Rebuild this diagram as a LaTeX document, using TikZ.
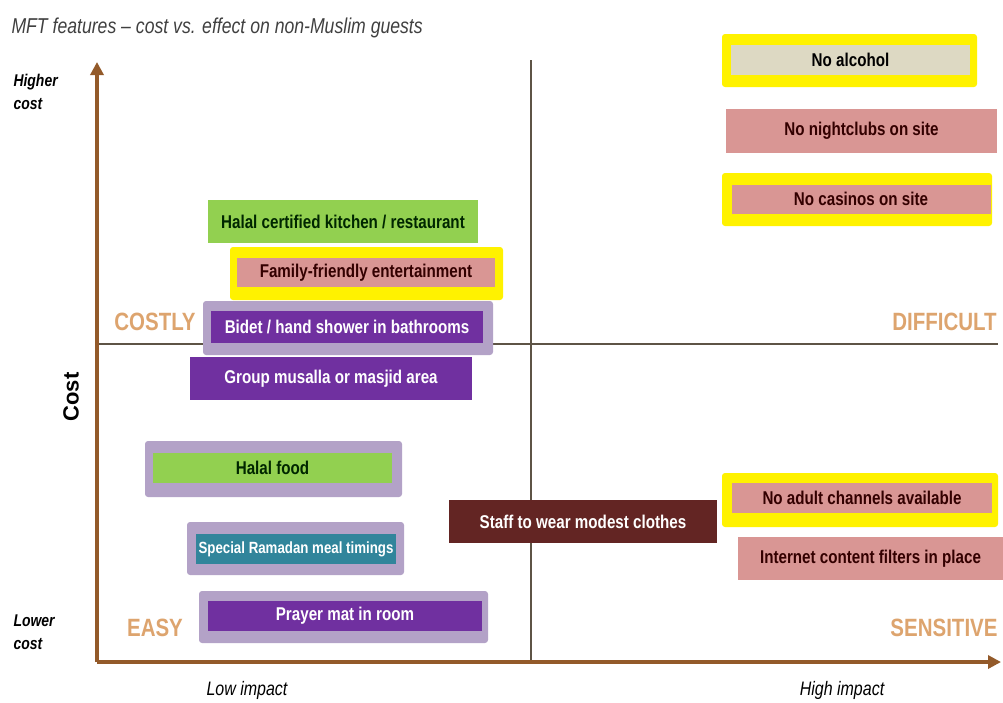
\documentclass[tikz,border=0pt]{standalone}
\usepackage{fontspec}
\setmainfont{Liberation Sans}
\newfontfamily\narrowfont[FakeStretch=0.82]{Liberation Sans}
\usetikzlibrary{arrows.meta}
\definecolor{axisbrown}{HTML}{935A2A}
\definecolor{quadtan}{HTML}{DDA46E}
\definecolor{boxgreen}{HTML}{92D050}
\definecolor{boxpink}{HTML}{D99694}
\definecolor{boxpurple}{HTML}{7030A0}
\definecolor{boxlav}{HTML}{B3A2C7}
\definecolor{boxteal}{HTML}{31859B}
\definecolor{boxbrown}{HTML}{632523}
\definecolor{boxgrey}{HTML}{DDD9C3}
\definecolor{divline}{HTML}{5E5446}
\begin{document}
\begin{tikzpicture}[x=1pt, y=-1pt,
  feat/.style={rectangle, inner sep=0pt, font=\narrowfont\bfseries\fontsize{18.5}{18.5}\selectfont},
  halo/.style={rectangle, inner sep=0pt, rounded corners=3pt},
  quad/.style={font=\narrowfont\bfseries\fontsize{25}{25}\selectfont, text=quadtan},
  axislbl/.style={font=\narrowfont\bfseries\itshape\fontsize{17}{23}\selectfont, align=left, anchor=west},
  implbl/.style={font=\narrowfont\itshape\fontsize{19.5}{20}\selectfont},
  axis/.style={draw=axisbrown, line width=3.5pt, -{Triangle[length=13pt,width=13pt]}},
  divider/.style={draw=divline, line width=1.2pt}]
\useasboundingbox (0,0) rectangle (1003,702);
% title
\node[anchor=west, text=black!75, font=\narrowfont\itshape\fontsize{21.5}{22}\selectfont] (title) at (8,28) {MFT features – cost vs. effect on non-Muslim guests};
% axes and quadrants
\coordinate (origin) at (97,662);
\coordinate (ytop) at (97,62);
\coordinate (xend) at (1001,662);
\coordinate (vtop) at (531,60);
\coordinate (vbot) at (531,662);
\coordinate (hleft) at (97,344);
\coordinate (hright) at (998,344);
\draw[divider] (vtop) -- (vbot);
\draw[divider] (hleft) -- (hright);
\draw[axis] (origin) -- (ytop);
\draw[axis] (origin) -- (xend);
\node[axislbl] (hicost) at (10,92) {Higher\\cost};
\node[axislbl] (locost) at (10,632) {Lower\\cost};
\node[rotate=90, font=\bfseries\fontsize{22}{22}\selectfont] (costlbl) at (71,397) {Cost};
\node[implbl] (loimp) at (247,690) {Low impact};
\node[implbl] (hiimp) at (842,690) {High impact};
\node[quad] (costly) at (155,322) {COSTLY};
\node[quad] (difficult) at (944.5,322) {DIFFICULT};
\node[quad] (easy) at (155,628) {EASY};
\node[quad] (sensitive) at (944,628) {SENSITIVE};
% features, upper left
\node[feat, fill=boxgreen, text=green!15!black, minimum width=270, minimum height=43] (kitchen) at (343,221.5) {Halal certified kitchen / restaurant};
\node[halo, fill=yellow, minimum width=273, minimum height=53] (familyhalo) at (366.5,273.5) {};
\node[feat, fill=boxpink, text=red!20!black, minimum width=258, minimum height=29] (family) at (366,272.5) {Family-friendly entertainment};
\node[halo, fill=boxlav, minimum width=290, minimum height=54] (bidethalo) at (348,328) {};
\node[feat, fill=boxpurple, text=white, minimum width=272, minimum height=32] (bidet) at (347,327) {Bidet / hand shower in bathrooms};
\node[feat, fill=boxpurple, text=white, minimum width=282, minimum height=43] (musalla) at (331,378.5) {Group musalla or masjid area};
% features, lower left
\node[halo, fill=boxlav, minimum width=257, minimum height=56] (foodhalo) at (273.5,469) {};
\node[feat, fill=boxgreen, text=green!15!black, minimum width=239, minimum height=30] (food) at (272.5,468) {Halal food};
\node[halo, fill=boxlav, minimum width=217, minimum height=53] (ramadanhalo) at (295.5,548.5) {};
\node[feat, fill=boxteal, text=white, minimum width=200, minimum height=30, font=\narrowfont\bfseries\fontsize{16.2}{16.2}\selectfont] (ramadan) at (296,549) {Special Ramadan meal timings};
\node[halo, fill=boxlav, minimum width=289, minimum height=52] (prayerhalo) at (343.5,617) {};
\node[feat, fill=boxpurple, text=white, minimum width=274, minimum height=30] (prayer) at (345,616) {Prayer mat in room};
\node[feat, fill=boxbrown, text=white, minimum width=268, minimum height=43] (staff) at (583,521.5) {Staff to wear modest clothes};
% features, right
\node[halo, fill=yellow, minimum width=255, minimum height=53] (alcoholhalo) at (849.5,60.5) {};
\node[feat, fill=boxgrey, text=black, minimum width=239, minimum height=30] (alcohol) at (850.5,60) {No alcohol};
\node[feat, fill=boxpink, text=red!20!black, minimum width=271, minimum height=44] (nightclub) at (861.5,131) {No nightclubs on site};
\node[halo, fill=yellow, minimum width=270, minimum height=53] (casinohalo) at (857,199.5) {};
\node[feat, fill=boxpink, text=red!20!black, minimum width=259, minimum height=29] (casino) at (861,199) {No casinos on site};
\node[halo, fill=yellow, minimum width=276, minimum height=54] (adulthalo) at (860,500) {};
\node[feat, fill=boxpink, text=red!20!black, minimum width=260, minimum height=30] (adult) at (862,498) {No adult channels available};
\node[feat, fill=boxpink, text=red!20!black, minimum width=265, minimum height=43] (filter) at (870.5,558.5) {Internet content filters in place};
\end{tikzpicture}
\end{document}
